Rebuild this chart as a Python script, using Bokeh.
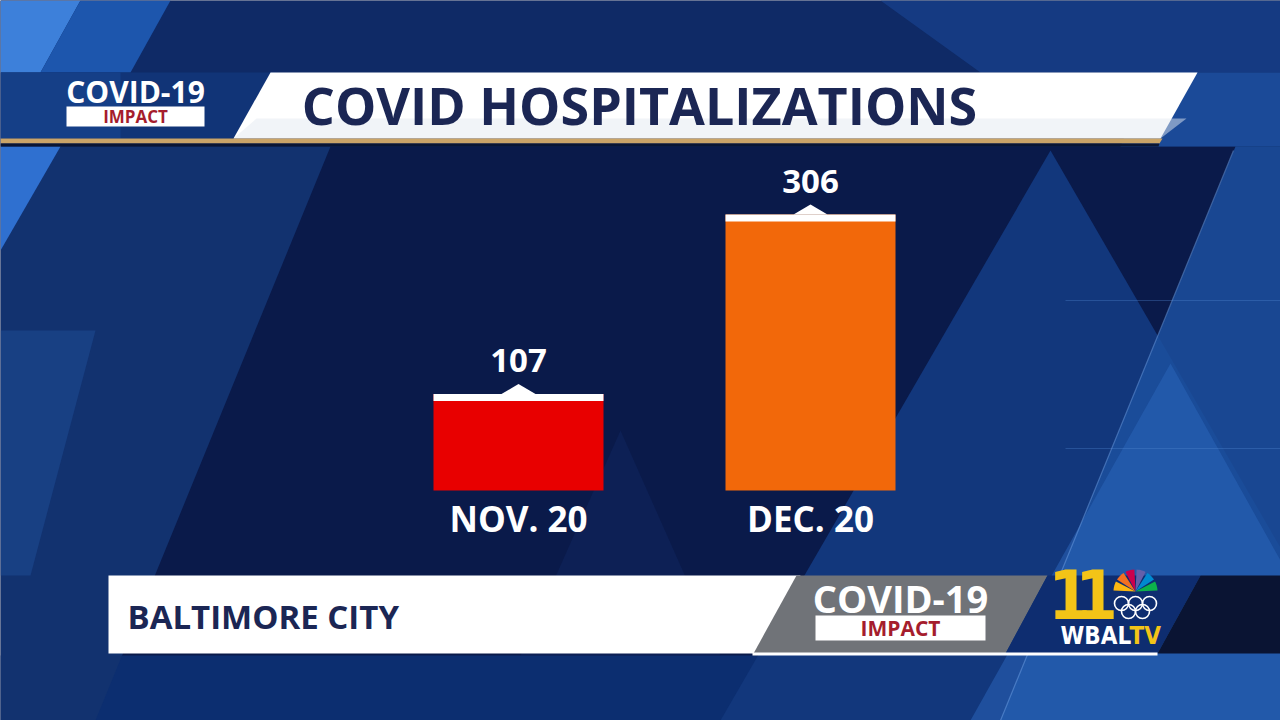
import numpy as np
from bokeh.plotting import figure
from bokeh.models import Range1d, ColumnDataSource
from bokeh.embed import file_html
from bokeh.resources import INLINE
from bokeh.core.properties import value

# ---------------- data ----------------
categories = ["NOV. 20", "DEC. 20"]
hospitalizations = [107, 306]
bar_colors = ["#e80000", "#f2680a"]
title_text = "COVID HOSPITALIZATIONS"
location_text = "BALTIMORE CITY"
badge_top = "COVID-19"
badge_bottom = "IMPACT"

# ---------------- scales (layout) ----------------
S = 0.902          # screen px per hospitalization
BASE_PX = 490      # screen y of value 0
CAT_PX = 292       # screen px between category centers
X0_PX = 518        # screen x of first category

FONT = value("Open Sans")

p = figure(width=1280, height=720,
           x_range=Range1d(-X0_PX / CAT_PX, (1280 - X0_PX) / CAT_PX),
           y_range=Range1d(-(720 - BASE_PX) / S, BASE_PX / S),
           output_backend="svg", toolbar_location=None,
           x_axis_location=None, y_axis_location=None,
           min_border=0, min_border_left=0, min_border_right=0,
           min_border_top=0, min_border_bottom=0)
p.extra_x_ranges = {"px": Range1d(0, 1280)}
p.extra_y_ranges = {"px": Range1d(720, 0)}
p.grid.visible = False
p.outline_line_color = None
p.background_fill_color = "#0a1a4a"
p.border_fill_color = "#0a1a4a"

PX = dict(x_range_name="px", y_range_name="px")


def poly(pts, color, alpha=1.0):
    xs = [a for a, b in pts]
    ys = [b for a, b in pts]
    p.patch(xs, ys, fill_color=color, fill_alpha=alpha, line_color=None, **PX)


def ptext(x, y, t, size, color, style="bold", align="left", font=FONT):
    p.text(x=[x], y=[y], text=[t], text_font=font, text_font_size=f"{size}px",
           text_font_style=style, text_color=color, text_align=align,
           text_baseline="middle", **PX)


# ---------------- background facets ----------------
poly([(0, 0), (1280, 0), (1280, 146), (0, 146)], "#0f2a66")
poly([(0, 0), (80, 0), (40, 72), (0, 72)], "#3d80da")
poly([(80, 0), (170, 0), (130, 72), (40, 72)], "#1d56ad")
poly([(880, 0), (1280, 0), (1280, 72), (980, 72)], "#163f8a", 0.8)
poly([(1150, 72), (1280, 72), (1280, 146), (1120, 146)], "#1b4a98")
poly([(0, 655), (1280, 655), (1280, 720), (0, 720)], "#0c2e70")
poly([(0, 146), (330, 146), (95, 720), (0, 720)], "#12326f")
poly([(0, 330), (95, 330), (30, 575), (0, 575)], "#1e4d98", 0.5)
poly([(0, 146), (60, 146), (0, 250)], "#2f70d0")
poly([(620, 430), (520, 655), (720, 655)], "#0f2660", 0.5)
poly([(1050, 150), (720, 720), (1380, 720)], "#12377c")
poly([(1235, 146), (1280, 146), (1280, 720), (1000, 720)], "#1c509f", 0.85)
poly([(1170, 363), (970, 720), (1280, 720), (1280, 560)], "#2a64b8", 0.55)
p.segment(x0=[1065, 1065], y0=[300, 448], x1=[1280, 1280], y1=[300, 448],
          line_color="#4f86d0", line_alpha=0.35, line_width=1, **PX)
p.segment(x0=[1233], y0=[150], x1=[1000], y1=[720], line_color="#6fa2e6",
          line_alpha=0.5, line_width=1.2, **PX)

# ---------------- top banner ----------------
poly([(0, 72), (276, 72), (239, 138), (0, 138)], "#113477")
poly([(0, 72), (120, 72), (120, 138), (0, 138)], "#1a4a98", 0.5)
poly([(270, 72), (1197, 72), (1160, 138), (233, 138)], "#ffffff")
poly([(256, 118), (1186, 118), (1160, 138), (233, 138)], "#e3e9f1", 0.5)
poly([(0, 138), (1162, 138), (1159, 143), (0, 143)], "#caa468")
poly([(0, 143), (1159, 143), (1158, 146), (0, 146)], "#0a1533")

ptext(135, 91, badge_top, 30, "#ffffff", align="center")
poly([(66, 106), (204, 106), (204, 126), (66, 126)], "#ffffff")
ptext(135, 116, badge_bottom, 17, "#a51d2d", align="center")
ptext(639, 104, title_text, 52, "#1b2654", align="center")

# ---------------- bars ----------------
idx = list(range(len(categories)))
cap = 7 / S
src = ColumnDataSource(dict(
    x=idx, top=hospitalizations, color=bar_colors, cat=categories,
    label=[str(v) for v in hospitalizations],
    cap_bottom=[v - cap for v in hospitalizations],
    label_y=[v + 33 / S for v in hospitalizations],
))
bw = 170 / CAT_PX
p.vbar(x="x", top="top", bottom=0, width=bw, fill_color="color", line_color=None, source=src)
p.vbar(x="x", top="top", bottom="cap_bottom", width=bw, fill_color="#ffffff",
       line_color=None, source=src)
tri_w = 17 / CAT_PX
tri_h = 10 / S
p.patches(xs=[[i - tri_w, i, i + tri_w] for i in idx],
          ys=[[v, v + tri_h, v] for v in hospitalizations],
          fill_color="#ffffff", line_color=None)
p.text(x="x", y="label_y", text="label", source=src, text_font=FONT,
       text_font_size="33px", text_font_style="bold", text_color="#ffffff",
       text_align="center", text_baseline="middle")
p.text(x="x", y=-27.5 / S, text="cat", source=src, text_font=FONT,
       text_font_size="35px", text_font_style="bold", text_color="#ffffff",
       text_align="center", text_baseline="middle")

# ---------------- bottom banner ----------------
poly([(108, 575), (800, 575), (757, 653), (108, 653)], "#ffffff")
poly([(796, 575), (1047, 575), (1005, 653), (753, 653)], "#707378")
poly([(1047, 575), (1200, 575), (1157, 653), (1005, 653)], "#0e2d70")
poly([(1200, 575), (1280, 575), (1280, 653), (1157, 653)], "#0a1433")
poly([(752, 652), (1157, 652), (1157, 655), (752, 655)], "#ffffff")

ptext(127, 616, location_text, 33, "#1b2654")
ptext(900, 597, badge_top, 38, "#ffffff", align="center")
poly([(815, 615), (985, 615), (985, 640), (815, 640)], "#ffffff")
ptext(900, 627, badge_bottom, 21, "#a51d2d", align="center")

# WBAL logo
COND = value("DejaVu Sans Condensed")
ptext(1069, 593, "1", 68, "#f3c417", align="center", font=COND)
ptext(1096, 593, "1", 68, "#f3c417", align="center", font=COND)
ptext(1060, 635, "WBAL", 24, "#ffffff", font=COND)
ptext(1129, 635, "TV", 24, "#f3c417", font=COND)
cx, cy, r = 1135, 591, 22
feather_cols = ["#fcb711", "#f37021", "#cc004c", "#6460aa", "#0089d0", "#0db14b"]
fx, fy = [], []
for i in range(6):
    a = np.linspace(np.pi - i * np.pi / 6 - 0.05, np.pi - (i + 1) * np.pi / 6 + 0.05, 8)
    fx.append([cx] + list(cx + r * np.cos(a)))
    fy.append([cy] + list(cy - r * np.sin(a)))
p.patches(xs=fx, ys=fy, fill_color=feather_cols, line_color=None, **PX)
p.circle(x=[1121, 1135, 1149, 1128, 1142], y=[603, 603, 603, 611, 611], radius=7,
         fill_color=None, line_color="#ffffff", line_width=1.6, **PX)

open("out.html", "w").write(file_html(p, INLINE))
